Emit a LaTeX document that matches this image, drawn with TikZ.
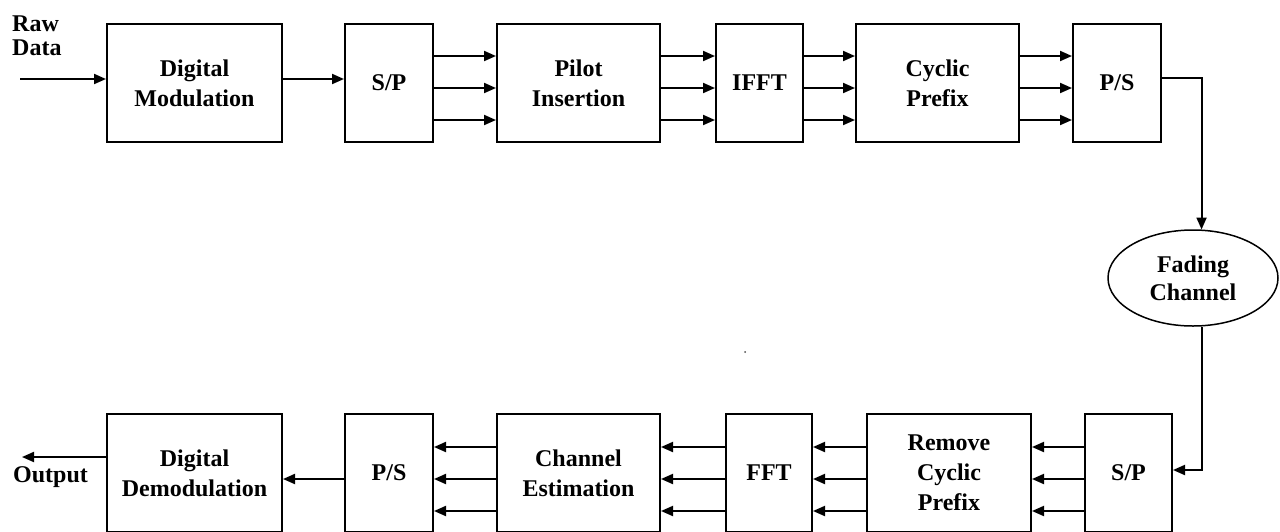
\documentclass[tikz,border=0pt]{standalone}
\usepackage{fontspec}
\setmainfont{Liberation Serif}
\usetikzlibrary{arrows.meta,shapes.geometric}
\begin{document}
\begin{tikzpicture}[x=1pt,y=-1pt,
  box/.style={draw, line width=2pt, minimum height=118pt, inner sep=0pt, align=center,
    font=\fontsize{24}{30}\selectfont\bfseries},
  lbl/.style={inner sep=0pt, font=\fontsize{24}{24}\selectfont\bfseries},
  arr/.style={line width=2pt, -{Triangle[length=12pt,width=10pt]}}]
\useasboundingbox (0,0) rectangle (1280,531);
\clip (0,0) rectangle (1280,531);
% top row
\node[box, minimum width=175pt] (dm) at (194.5,83) {Digital\\Modulation};
\node[box, minimum width=88pt] (sp1) at (389,83) {S/P};
\node[box, minimum width=163pt] (pi) at (578.5,83) {Pilot\\Insertion};
\node[box, minimum width=87pt] (ifft) at (759.5,83) {IFFT};
\node[box, minimum width=163pt] (cp) at (937.5,83) {Cyclic\\Prefix};
\node[box, minimum width=88pt] (ps1) at (1117,83) {P/S};
% channel
\node[draw, ellipse, line width=1.5pt, minimum width=170pt, minimum height=96pt, inner sep=0pt,
  align=center, font=\fontsize{24}{28}\selectfont\bfseries] (fade) at (1193,278) {Fading\\Channel};
% bottom row
\node[box, minimum width=175pt] (dd) at (194.5,473) {Digital\\Demodulation};
\node[box, minimum width=88pt] (ps2) at (389,473) {P/S};
\node[box, minimum width=163pt] (ce) at (578.5,473) {Channel\\Estimation};
\node[box, minimum width=86pt] (fft) at (769,473) {FFT};
\node[box, minimum width=164pt] (rcp) at (949,473) {Remove\\Cyclic\\Prefix};
\node[box, minimum width=87pt] (sp2) at (1128.5,473) {S/P};
% labels
\node[lbl, anchor=north west, align=left] (raw) at (12,16) {Raw\\Data};
\node[lbl, anchor=base west] (out) at (13,482) {Output};
\coordinate (in) at (20,79);
\coordinate (outend) at (22,457);
% top connectors
\draw[arr] (in) -- (dm.west |- in);
\draw[arr] (dm.east |- 0,79) -- (sp1.west |- 0,79);
\foreach \a/\b in {sp1/pi, pi/ifft, ifft/cp, cp/ps1}
  \foreach \y in {56,88,120}
    \draw[arr] (\a.east |- 0,\y) -- (\b.west |- 0,\y);
\draw[arr] (ps1.east |- 0,78) -| (fade.80);
\draw[arr] (fade.-80) |- (sp2.east |- 0,470);
% bottom connectors
\foreach \a/\b in {sp2/rcp, rcp/fft, fft/ce, ce/ps2}
  \foreach \y in {447,479,511}
    \draw[arr] (\a.west |- 0,\y) -- (\b.east |- 0,\y);
\draw[arr] (ps2.west |- 0,479) -- (dd.east |- 0,479);
\draw[arr] (dd.west |- outend) -- (outend);
\fill[black!70] (745,352) circle (1pt);
\end{tikzpicture}
\end{document}
